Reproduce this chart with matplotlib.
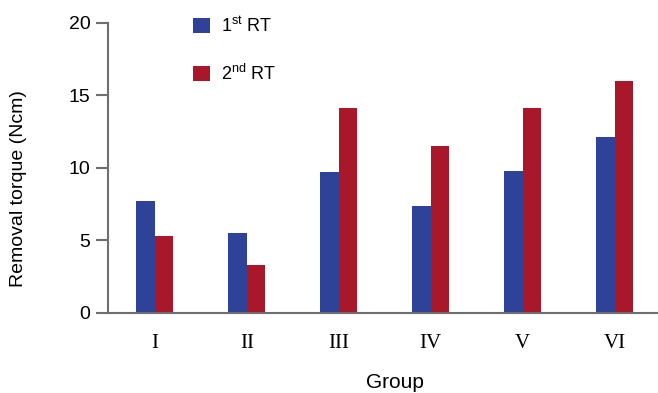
import matplotlib.pyplot as plt
import numpy as np

groups = ["I", "II", "III", "IV", "V", "VI"]
first_rt = [7.7, 5.5, 9.7, 7.4, 9.8, 12.1]
second_rt = [5.3, 3.3, 14.1, 11.5, 14.1, 16.0]

BLUE = "#2e4398"
RED = "#a8172a"
GREY = "#6e6e6e"

plt.rcParams["font.family"] = ["Liberation Sans", "DejaVu Sans"]
plt.rcParams["mathtext.fontset"] = "custom"
plt.rcParams["mathtext.rm"] = "Liberation Sans"

fig = plt.figure(figsize=(6.58, 3.93), dpi=100)
ax = fig.add_axes([0.164, 0.2036, 0.836, 0.739])

x = np.arange(len(groups))
w = 0.2
ax.bar(x - w / 2, first_rt, w, color=BLUE, label=r"1$^{\mathrm{st}}$ RT")
ax.bar(x + w / 2, second_rt, w, color=RED, label=r"2$^{\mathrm{nd}}$ RT")

ax.set_xlim(-0.51, 5.47)
ax.set_ylim(0, 20)
ax.set_yticks([0, 5, 10, 15, 20])
ax.set_xticks(x)
ax.set_xticklabels(groups, family="Liberation Serif", fontsize=15)
ax.tick_params(axis="x", length=0, pad=15)
ax.tick_params(axis="y", length=8.5, width=1.5, color=GREY, labelsize=14, pad=4)

for s in ["top", "right"]:
    ax.spines[s].set_visible(False)
for s in ["left", "bottom"]:
    ax.spines[s].set_color(GREY)
    ax.spines[s].set_linewidth(1.5)

ax.set_ylabel("Removal torque (Ncm)", fontsize=14)
ax.yaxis.set_label_coords(-0.147, 0.43)
ax.set_xlabel("Group", fontsize=15)
ax.xaxis.set_label_coords(0.522, -0.205)

ax.legend(loc="upper left", bbox_to_anchor=(0.268, 1.0), bbox_transform=fig.transFigure,
          frameon=False, fontsize=13, handlelength=0.95, handleheight=0.9,
          handletextpad=0.6, labelspacing=1.55)

fig.savefig("out.png", dpi=100)
